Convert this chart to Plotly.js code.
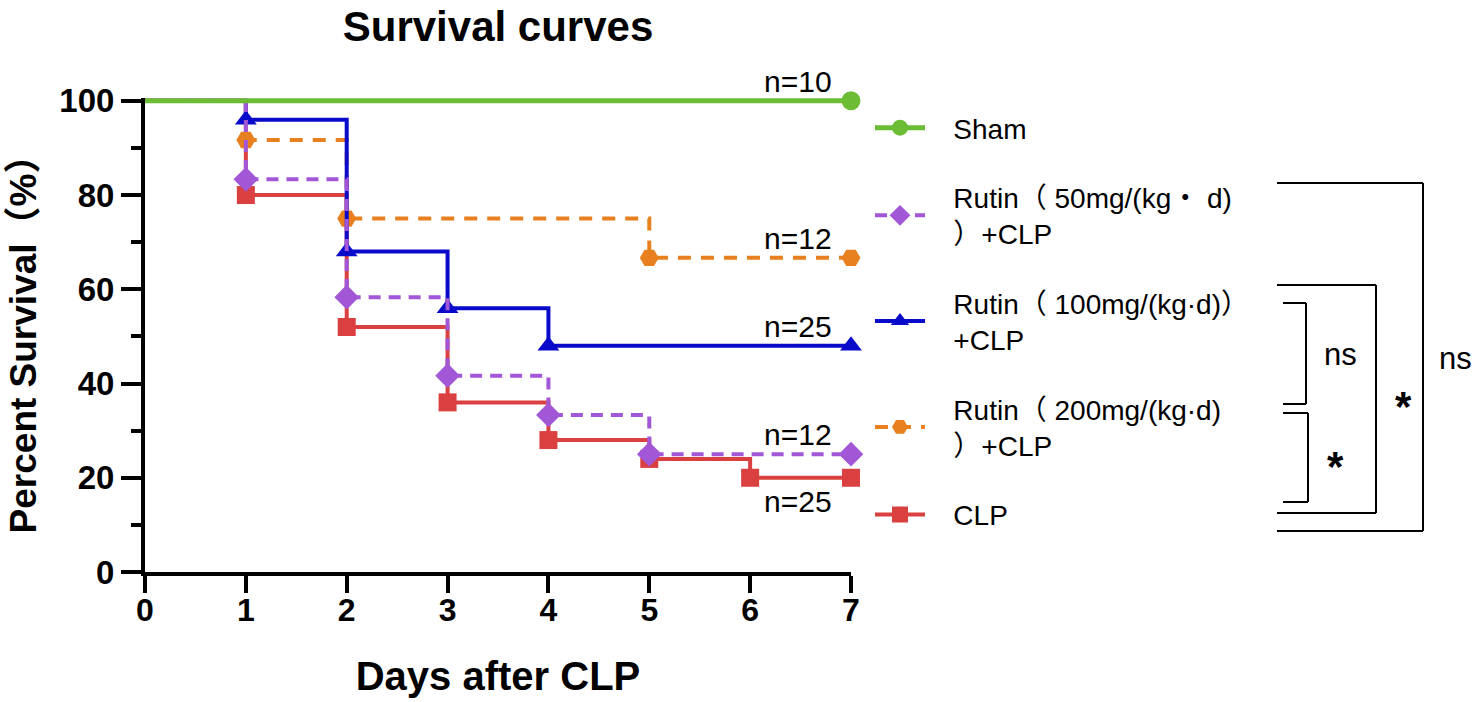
<!DOCTYPE html>
<html>
<head>
<meta charset="utf-8">
<script src="https://cdn.plot.ly/plotly-3.0.1.min.js"></script>
<style>html,body{margin:0;padding:0;background:#fff;}#chart{width:1480px;height:702px;}</style>
</head>
<body>
<div id="chart"></div>
<script>
// ---- data ----
const seriesNames = ["Sham", "Rutin（ 50mg/(kg・ d)<br>）+CLP", "Rutin（ 100mg/(kg·d)）<br>+CLP", "Rutin（ 200mg/(kg·d)<br>）+CLP", "CLP"];
const shamDays = [0, 7];
const shamSurv = [100, 100];
const r50Days = [0, 1, 2, 3, 4, 5, 7];
const r50Surv = [100, 83.33, 58.33, 41.67, 33.33, 25, 25];
const r100Days = [0, 1, 2, 3, 4, 7];
const r100Surv = [100, 96, 68, 56, 48, 48];
const r200Days = [0, 1, 2, 5, 7];
const r200Surv = [100, 91.67, 75, 66.67, 66.67];
const clpDays = [0, 1, 2, 3, 4, 5, 6, 7];
const clpSurv = [100, 80, 52, 36, 28, 24, 20, 20];
const nLabels = ["n=10", "n=12", "n=25", "n=12", "n=25"];
const xTicks = [0, 1, 2, 3, 4, 5, 6, 7];
const yTicks = [0, 20, 40, 60, 80, 100];
const sigLabels = ["ns", "*", "*", "ns"];

// ---- styling ----
const FONT = "Arial, 'Liberation Sans', 'Noto Sans CJK SC', sans-serif";
const colors = {sham: "#6CBD35", r50: "#A257D7", r100: "#0A0ACB", r200: "#E8801F", clp: "#DB4040"};

// plot area in pixels (y range slightly above 100 so the top line is not clipped)
const YMAX = 100.6;
const L = 145, R = 851, B = 572, Y100 = 101;
const T = Math.round(B - (B - Y100) * YMAX / 100);
const px = p => (p - L) / (R - L);
const py = p => (B - p) / (B - T);

function sizes(arr, s) { return arr.map((v, i) => i === 0 ? 0 : s); }
function padName(n) { return n.split("<br>").map(s => "\u00a0\u00a0\u00a0" + s).join("<br>"); }

const dataTraces = [];
const legendTraces = [];
function addSeries(x, y, name, color, symbol, msize, dash, width, rank) {
  dataTraces.push({
    type: "scatter", mode: "lines+markers", x: x, y: y, name: name, showlegend: false,
    line: {shape: "hv", color: color, width: width, dash: dash},
    marker: {symbol: symbol, color: color, size: sizes(x, msize), opacity: 1, line: {width: 0}},
    cliponaxis: false, hoverinfo: "skip"
  });
  legendTraces.push({
    type: "scatter", mode: "lines+markers", x: [null], y: [null], name: padName(name), showlegend: true,
    line: {color: color, width: width, dash: dash},
    marker: {symbol: symbol, color: color, size: 16, opacity: 1, line: {width: 0}},
    legendrank: rank, legendgroup: "g" + rank, hoverinfo: "skip"
  });
}

// drawing order bottom -> top
addSeries(clpDays, clpSurv, seriesNames[4], colors.clp, "square", 18, "solid", 4, 5);
addSeries(r200Days, r200Surv, seriesNames[3], colors.r200, "hexagon2", 19, "13px,10px", 4, 4);
addSeries(r100Days, r100Surv, seriesNames[2], colors.r100, "triangle-up", 19, "solid", 4, 3);
addSeries(r50Days, r50Surv, seriesNames[1], colors.r50, "diamond", 19, "12px,8px", 4, 2);
addSeries(shamDays, shamSurv, seriesNames[0], colors.sham, "circle", 19, "solid", 5, 1);

// n= annotations at end of each curve
const endVals = [shamSurv[shamSurv.length - 1], r200Surv[r200Surv.length - 1], r100Surv[r100Surv.length - 1], r50Surv[r50Surv.length - 1], clpSurv[clpSurv.length - 1]];
const annotations = endVals.map((v, i) => ({
  x: 7, y: v, xref: "x", yref: "y", text: nLabels[i], showarrow: false,
  xanchor: "right", yanchor: i === 4 ? "top" : "bottom", xshift: -17, yshift: i === 4 ? -5 : 1,
  font: {family: FONT, size: 30, color: "#000"}
}));

// significance labels
const sigPos = [[1340, 355, 31, "normal"], [1335, 466, 42, "bold"], [1403, 406, 42, "bold"], [1455, 358, 31, "normal"]];
sigPos.forEach((p, i) => annotations.push({
  x: px(p[0]), y: py(p[1]), xref: "paper", yref: "paper", text: sigLabels[i], showarrow: false,
  xanchor: "center", yanchor: "middle", font: {family: FONT, size: p[2], weight: p[3], color: "#000"}
}));

// brackets (pixel geometry)
const brackets = [
  [1277, 1423, 183, 531],
  [1277, 1376, 285, 513],
  [1283, 1306, 303, 404],
  [1283, 1308, 413, 502]
];
const shapes = [];
brackets.forEach(b => {
  shapes.push({type: "line", xref: "paper", yref: "paper", x0: px(b[0]), x1: px(b[1]), y0: py(b[2]), y1: py(b[2]), line: {color: "#000", width: 2}});
  shapes.push({type: "line", xref: "paper", yref: "paper", x0: px(b[1]), x1: px(b[1]), y0: py(b[2]), y1: py(b[3]), line: {color: "#000", width: 2}});
  shapes.push({type: "line", xref: "paper", yref: "paper", x0: px(b[0]), x1: px(b[1]), y0: py(b[3]), y1: py(b[3]), line: {color: "#000", width: 2}});
});

const layout = {
  width: 1480, height: 702,
  margin: {l: L, r: 1480 - R, t: T, b: 702 - B, pad: 0, autoexpand: false},
  paper_bgcolor: "#fff", plot_bgcolor: "#fff",
  font: {family: FONT, color: "#000"},
  title: {text: "Survival curves", font: {family: FONT, size: 42, weight: "bold", color: "#000"},
          x: px(498), xref: "paper", xanchor: "center", y: 1 - 26 / 702, yref: "container", yanchor: "middle"},
  xaxis: {
    range: [0, 7], tickvals: xTicks, showgrid: false, zeroline: false,
    showline: true, linewidth: 4, linecolor: "#000", ticks: "outside", ticklen: 17, tickwidth: 4, tickcolor: "#000",
    ticklabelstandoff: -10,
    tickfont: {family: FONT, size: 32, weight: "bold", color: "#000"},
    title: {text: "Days after CLP", font: {family: FONT, size: 40, weight: "bold", color: "#000"}, standoff: 36}
  },
  yaxis: {
    range: [0, YMAX], tickvals: yTicks, showgrid: false, zeroline: false,
    showline: true, linewidth: 4, linecolor: "#000", ticks: "outside", ticklen: 20, tickwidth: 4, tickcolor: "#000",
    minor: {tickvals: [10, 30, 50, 70, 90], ticks: "outside", ticklen: 10, tickwidth: 4, tickcolor: "#000", showgrid: false},
    tickfont: {family: FONT, size: 33, weight: "bold", color: "#000"},
    title: {text: "Percent Survival（%）", font: {family: FONT, size: 37, weight: "bold", color: "#000"}, standoff: 12}
  },
  showlegend: true,
  legend: {
    x: px(870), y: py(103), xanchor: "left", yanchor: "top",
    traceorder: "grouped", tracegroupgap: 30, itemwidth: 50,
    font: {family: FONT, size: 28, color: "#000"}, bgcolor: "rgba(0,0,0,0)"
  },
  annotations: annotations,
  shapes: shapes
};

Plotly.newPlot("chart", dataTraces.concat(legendTraces), layout, {displayModeBar: false, staticPlot: true});
</script>
</body>
</html>
